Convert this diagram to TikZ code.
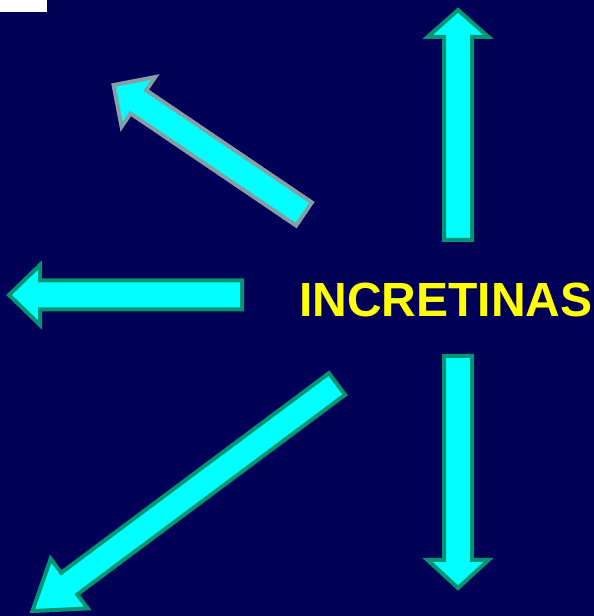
\documentclass[tikz,border=0pt]{standalone}
\usepackage{fontspec}
\setmainfont{Liberation Sans}
\definecolor{bgnavy}{RGB}{0,0,88}
\definecolor{arrowfill}{RGB}{0,255,255}
\definecolor{tealedge}{RGB}{0,150,115}
\definecolor{grayedge}{RGB}{130,160,165}
\definecolor{titleyellow}{RGB}{255,255,0}
\newcommand\fatarrow[8]{%
 \begin{scope}[shift={(#1,#2)},rotate=#3]
 \draw[#8] (0,-#5) -- ({#4-#7},-#5) -- ({#4-#7},-#6) -- (#4,0) -- ({#4-#7},#6) -- ({#4-#7},#5) -- (0,#5) -- cycle;
 \end{scope}}
\begin{document}
\begin{tikzpicture}[x=1pt,y=1pt,
  arrowshape/.style={fill=arrowfill,draw=tealedge,line width=4pt,line join=miter},
  grayarrow/.style={arrowshape,draw=grayedge}]
\fill[bgnavy] (0,0) rectangle (594,616);
\useasboundingbox (0,0) rectangle (594,616);
\fill[white] (0,604) rectangle (47,616);
\fatarrow{458}{376}{90}{230}{14}{30.5}{27}{arrowshape}
\fatarrow{458}{260}{-90}{232}{14}{30.5}{28}{arrowshape}
\fatarrow{242}{321}{180}{233}{14.5}{30}{31}{arrowshape}
\fatarrow{304}{402}{145.9}{230}{14}{30}{30}{grayarrow}
\fatarrow{337}{232}{216.7}{380}{13.5}{31}{46}{arrowshape}
\node[anchor=base west, inner sep=0, text=titleyellow, font=\bfseries\fontsize{48}{50}\selectfont] (title) at (299,299.3) {INCRETINAS};
\end{tikzpicture}
\end{document}
